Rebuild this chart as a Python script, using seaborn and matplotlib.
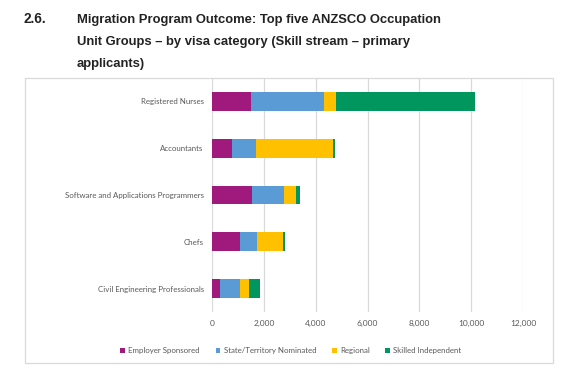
import numpy as np
import pandas as pd
import matplotlib
matplotlib.use("Agg")
import matplotlib.pyplot as plt
from matplotlib.patches import Rectangle, Patch
import seaborn as sns

occupations = ["Registered Nurses", "Accountants", "Software and Applications Programmers",
               "Chefs", "Civil Engineering Professionals"]
series_names = ["Employer Sponsored", "State/Territory Nominated", "Regional", "Skilled Independent"]
employer = [1490, 760, 1530, 1080, 310]
state = [2850, 930, 1240, 670, 780]
regional = [460, 2960, 490, 980, 330]
skilled = [5340, 110, 140, 90, 440]
colors = ["#A0197C", "#5B9BD5", "#FFC000", "#00965E"]
xticks = [0, 2000, 4000, 6000, 8000, 10000, 12000]

sns.set_style("white")
plt.rcParams["font.family"] = ["Lato", "DejaVu Sans"]

fig = plt.figure(figsize=(5.74, 3.79), dpi=100)
ax = fig.add_axes([212/574, 1-312/379, 311/574, 234/379])

vals = np.array([employer, state, regional, skilled], dtype=float)
cum = np.cumsum(vals, axis=0)
for i in range(len(series_names) - 1, -1, -1):
    df = pd.DataFrame({"occ": occupations, "v": cum[i]})
    sns.barplot(data=df, x="v", y="occ", order=occupations, color=colors[i],
                saturation=1, width=0.4, ax=ax, orient="h", linewidth=0, zorder=3)

ax.set_xlim(0, 12000)
ax.set_xticks(xticks)
ax.set_xticklabels([f"{t:,}" for t in xticks])
ax.set_xlabel("")
ax.set_ylabel("")
for s in ax.spines.values():
    s.set_visible(False)
ax.grid(axis="x", color="#D9D9D9", linewidth=0.9, zorder=0)
ax.grid(axis="y", visible=False)
ax.set_axisbelow(True)
ax.tick_params(axis="x", length=0, labelsize=6.0, colors="#595959", pad=6)
ax.tick_params(axis="y", length=0, labelsize=5.7, colors="#595959", pad=6)

# chart border
fig.add_artist(Rectangle((25/574, 1-363/379), 528/574, 285/379, transform=fig.transFigure,
                         fill=False, edgecolor="#D9D9D9", linewidth=0.9))

handles = [Patch(facecolor=c, edgecolor="none") for c in colors]
fig.legend(handles, series_names, loc="center", bbox_to_anchor=(291/574, 1-351/379),
           ncol=4, frameon=False, fontsize=5.7, labelcolor="#595959",
           handlelength=0.6, handleheight=0.6, handletextpad=0.4, columnspacing=2.0)

fig.text(23/574, 1-19/379, "2.6.", fontsize=9.8, fontweight="bold", color="#222222",
         family=["Liberation Sans", "DejaVu Sans"], va="center")
fig.text(77/574, 1-42/379,
         "Migration Program Outcome: Top five ANZSCO Occupation\nUnit Groups \u2013 by visa category (Skill stream \u2013 primary\napplicants)",
         fontsize=9.4, fontweight="bold", color="#222222",
         family=["Liberation Sans", "DejaVu Sans"], va="center", linespacing=2.1)

fig.savefig("out.png", dpi=100)
